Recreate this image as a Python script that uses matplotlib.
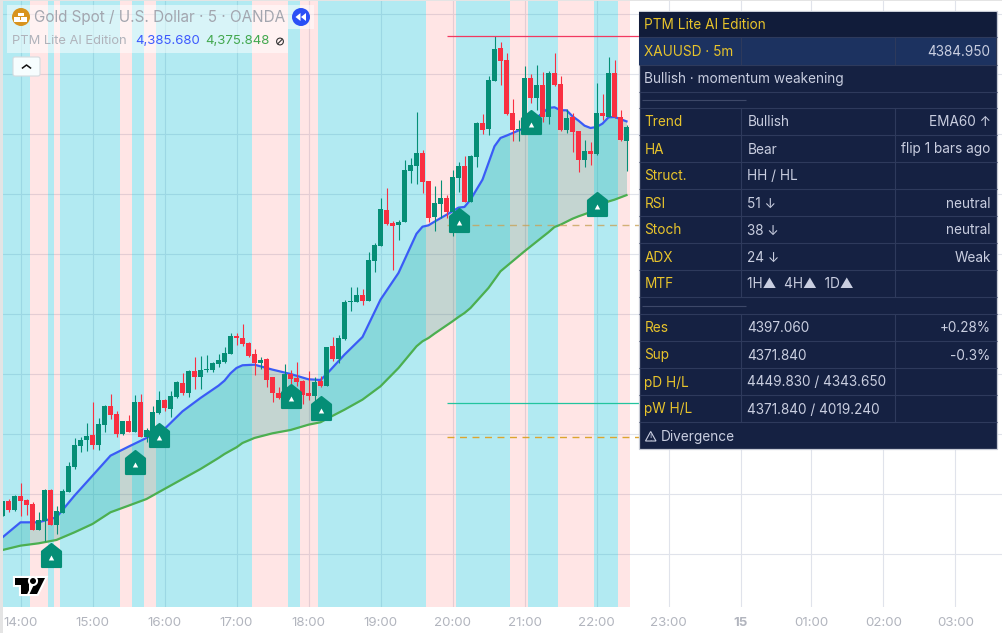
import matplotlib
matplotlib.use('Agg')
from matplotlib import pyplot as plt
from matplotlib.markers import MarkerStyle
from matplotlib.patches import Rectangle, FancyBboxPatch, Circle, Polygon
from matplotlib.path import Path
import matplotlib.patheffects as pe

plt.rcParams['font.family'] = ['Inter', 'DejaVu Sans']

# bars are counted from the 14:00 candle, 5 minutes each
first_bar = -3
opens = [4333.11, 4335.11, 4333.91, 4335.78, 4335.24, 4334.71, 4331.24, 4332.44, 4336.58, 4331.91,
         4333.51, 4336.31, 4339.64, 4342.44, 4343.24, 4343.91, 4342.58, 4345.24, 4347.78, 4346.71,
         4344.04, 4345.78, 4344.31, 4348.31, 4343.64, 4344.44, 4346.84, 4348.58, 4347.38, 4348.98,
         4350.84, 4349.51, 4352.44, 4351.64, 4352.58, 4352.58, 4353.38, 4353.64, 4354.71, 4357.11,
         4356.84, 4356.18, 4354.71, 4353.51, 4354.04, 4351.56, 4349.51, 4348.80, 4352.00, 4351.51,
         4351.11, 4349.51, 4349.11, 4351.11, 4350.44, 4355.78, 4354.04, 4356.71, 4361.64, 4361.64,
         4362.58, 4361.78, 4367.11, 4369.11, 4373.91, 4372.18, 4371.91, 4372.31, 4379.11, 4379.78,
         4381.47, 4377.78, 4372.98, 4374.71, 4375.51, 4373.64, 4378.18, 4379.78, 4374.98, 4380.98,
         4385.51, 4384.71, 4391.11, 4395.51, 4393.91, 4386.84, 4384.58, 4384.58, 4391.51, 4388.84,
         4390.58, 4386.31, 4392.18, 4390.71, 4384.58, 4386.31, 4384.44, 4380.58, 4381.78, 4381.38,
         4386.84, 4386.31, 4392.18, 4386.31, 4383.11]
closes = [4335.11, 4333.91, 4335.78, 4335.11, 4334.58, 4331.24, 4332.58, 4336.58, 4331.91, 4333.78,
          4336.44, 4339.78, 4342.53, 4343.24, 4343.78, 4342.58, 4345.38, 4347.78, 4346.58, 4344.04,
          4345.78, 4344.31, 4348.31, 4343.64, 4344.58, 4346.98, 4348.58, 4347.51, 4349.11, 4350.89,
          4349.51, 4352.44, 4351.64, 4352.58, 4352.71, 4353.51, 4353.91, 4354.84, 4357.11, 4356.84,
          4356.04, 4354.44, 4353.51, 4353.91, 4351.24, 4349.42, 4348.80, 4352.00, 4351.38, 4350.98,
          4349.24, 4349.11, 4350.98, 4350.44, 4355.64, 4354.04, 4356.84, 4361.64, 4361.78, 4362.58,
          4361.78, 4367.24, 4369.24, 4374.04, 4372.04, 4371.78, 4372.31, 4379.24, 4379.91, 4381.47,
          4377.64, 4372.84, 4374.84, 4375.51, 4373.64, 4378.31, 4379.78, 4374.98, 4381.11, 4385.51,
          4384.58, 4391.24, 4395.38, 4393.78, 4386.71, 4384.58, 4384.71, 4391.51, 4388.84, 4390.58,
          4386.31, 4392.18, 4390.58, 4384.58, 4386.18, 4384.31, 4380.58, 4381.78, 4381.38, 4386.84,
          4386.44, 4392.18, 4386.31, 4383.24, 4384.95]
highs = [4335.11, 4335.33, 4335.91, 4337.47, 4335.33, 4334.89, 4333.64, 4336.67, 4336.67, 4334.44,
         4336.67, 4340.31, 4343.47, 4343.56, 4345.42, 4348.22, 4346.13, 4347.91, 4349.38, 4347.11,
         4345.78, 4346.58, 4349.24, 4349.38, 4344.80, 4347.78, 4349.78, 4348.67, 4349.78, 4351.11,
         4352.09, 4352.58, 4354.31, 4354.44, 4354.58, 4353.56, 4354.67, 4355.64, 4357.47, 4357.42,
         4358.67, 4356.27, 4355.38, 4354.31, 4354.13, 4351.64, 4350.22, 4353.33, 4352.53, 4353.64,
         4351.20, 4352.44, 4351.64, 4351.78, 4355.64, 4356.93, 4357.24, 4361.91, 4363.56, 4363.60,
         4363.38, 4368.27, 4369.47, 4375.47, 4376.80, 4372.36, 4372.58, 4380.58, 4380.80, 4386.98,
         4381.91, 4377.78, 4377.11, 4377.91, 4375.91, 4379.24, 4380.31, 4381.11, 4381.24, 4385.64,
         4386.71, 4391.78, 4397.11, 4396.31, 4394.84, 4388.71, 4385.91, 4393.11, 4392.04, 4393.24,
         4392.31, 4392.44, 4394.84, 4391.78, 4387.38, 4386.84, 4384.44, 4383.24, 4382.98, 4390.84,
         4389.38, 4394.31, 4393.91, 4387.24, 4385.24]
lows = [4333.11, 4333.56, 4333.78, 4333.02, 4333.24, 4331.24, 4331.24, 4329.78, 4331.91, 4330.67,
        4333.42, 4336.31, 4339.33, 4341.56, 4341.78, 4342.00, 4341.91, 4344.31, 4346.00, 4343.56,
        4343.91, 4344.31, 4344.31, 4343.64, 4342.89, 4344.00, 4346.67, 4347.11, 4346.22, 4348.80,
        4349.24, 4348.98, 4350.00, 4350.00, 4352.22, 4352.22, 4352.89, 4353.42, 4354.67, 4355.91,
        4355.78, 4354.22, 4351.91, 4352.67, 4350.22, 4348.31, 4348.67, 4348.80, 4350.67, 4350.44,
        4348.00, 4348.53, 4348.44, 4350.22, 4350.44, 4353.69, 4353.47, 4356.58, 4360.44, 4361.64,
        4361.24, 4361.78, 4365.64, 4369.11, 4371.91, 4365.91, 4369.90, 4372.31, 4377.47, 4377.38,
        4376.18, 4372.31, 4371.11, 4372.84, 4372.84, 4370.44, 4376.31, 4374.98, 4374.98, 4379.64,
        4384.04, 4383.91, 4391.11, 4390.58, 4386.58, 4383.11, 4383.11, 4384.58, 4388.13, 4387.24,
        4385.64, 4385.38, 4390.44, 4384.44, 4384.18, 4381.64, 4378.98, 4379.64, 4379.91, 4381.24,
        4385.91, 4386.31, 4386.18, 4383.11, 4379.11]

ema_bars = [-3, 0, 3, 6, 9, 12, 15, 18, 21, 24, 27, 30, 33, 34, 35, 36, 37, 39, 42, 45, 48, 50, 51, 54, 57,
            60, 63, 66, 67, 68, 69, 72, 73, 74, 75, 76, 77, 78, 79, 80, 81, 84, 87, 88, 89, 90, 91, 92, 93,
            94, 95, 96, 97, 98, 99, 101]
ema_fast = [4330.22, 4332.22, 4332.22, 4332.89, 4335.78, 4338.44, 4341.11, 4342.31, 4343.47, 4344.67,
            4347.02, 4348.80, 4350.44, 4351.11, 4352.09, 4352.80, 4353.16, 4353.24, 4352.58, 4352.00,
            4351.29, 4351.20, 4351.96, 4354.58, 4356.93, 4361.91, 4365.47, 4370.70, 4371.64, 4371.82,
            4372.31, 4373.69, 4374.18, 4374.27, 4375.24, 4376.58, 4377.91, 4380.13, 4382.36, 4383.47,
            4383.78, 4384.80, 4386.80, 4387.47, 4387.56, 4387.16, 4387.16, 4386.36, 4385.78, 4385.11,
            4384.80, 4384.93, 4385.38, 4386.22, 4386.27, 4385.68]
ema_60 = [4328.53, 4329.11, 4329.42, 4329.87, 4330.89, 4332.00, 4333.56, 4334.44, 4335.33, 4336.67,
          4338.00, 4339.33, 4340.80, 4341.33, 4341.78, 4342.22, 4342.80, 4343.47, 4344.09, 4344.53,
          4345.24, 4345.56, 4346.00, 4347.24, 4348.58, 4350.36, 4352.80, 4355.69, 4356.36, 4356.80,
          4357.38, 4359.02, 4359.60, 4360.13, 4360.80, 4361.69, 4362.58, 4363.47, 4364.58, 4365.69,
          4366.36, 4368.36, 4370.27, 4370.90, 4371.60, 4371.90, 4372.30, 4372.70, 4373.02, 4373.30,
          4373.60, 4373.82, 4374.60, 4375.00, 4375.24, 4375.848]

# background state changes, first zone is blue then they alternate
zone_edges = [-3, 1.5, 4.5, 5.5, 6.5, 16.5, 18.5, 20.5, 22.5, 38.5, 44.5, 46.5, 49.5, 67.5, 72.5, 81.5,
              84.5, 89.5, 95.5, 99.5, 101.5]

signal_bars = [5, 19, 23, 45, 50, 73, 85, 96]
signal_prices = [4327.87, 4340.33, 4343.80, 4349.07, 4347.47, 4372.53, 4385.60, 4374.67]

res_level = 4397.06
sup_level = 4371.84
green_level = 4348.09
pd_low_level = 4343.65

tick_bars = [0, 12, 24, 36, 48, 60, 72, 84, 96, 108, 120, 131.8, 143.8, 155.8]
tick_labels = ['14:00', '15:00', '16:00', '17:00', '18:00', '19:00', '20:00', '21:00', '22:00', '23:00',
               '15', '01:00', '02:00', '03:00']
price_grid = [4328, 4336, 4344, 4352, 4360, 4368, 4376, 4384, 4392, 4400]

table_labels = ['Trend', 'HA', 'Struct.', 'RSI', 'Stoch', 'ADX', 'MTF']
table_values = ['Bullish', 'Bear', 'HH / HL', '51 ↓', '38 ↓', '24 ↓', '1H▲  4H▲  1D▲']
table_notes = ['EMA60 ↑', 'flip 1 bars ago', '', 'neutral', 'neutral', 'Weak', '']
level_labels = ['Res', 'Sup', 'pD H/L', 'pW H/L']
level_values = ['4397.060', '4371.840', '4449.830 / 4343.650', '4371.840 / 4019.240']
level_notes = ['+0.28%', '-0.3%', '', '']

GREEN = '#058e76'
RED = '#f92f41'

fig = plt.figure(figsize=(10.03, 6.33), dpi=100, facecolor='white')
ax = fig.add_axes([3 / 1003, 26 / 633, 1000 / 1003, 606 / 633])
ax.set_xlim(-2.917, 163.75)
ax.set_ylim(4320.93, 4401.73)
for s in ax.spines.values():
    s.set_visible(False)

ax.set_xticks(tick_bars, tick_labels)
ax.set_yticks(price_grid)
ax.tick_params(axis='x', length=0, pad=7, labelsize=9.6, labelcolor='#b2b5be')
ax.tick_params(axis='y', length=0, labelleft=False)
ax.get_xticklabels()[10].set_fontweight('bold')
ax.grid(color='#e0e3eb', linewidth=0.8)
ax.set_axisbelow(True)

for i in range(len(zone_edges) - 1):
    if i % 2 == 0:
        ax.axvspan(zone_edges[i], zone_edges[i + 1], color='#00bcd4', alpha=0.3, lw=0, zorder=1)
    else:
        ax.axvspan(zone_edges[i], zone_edges[i + 1], color='#ff5252', alpha=0.15, lw=0, zorder=1)

ax.fill_between(ema_bars, ema_60, ema_fast, color='#00a090', alpha=0.23, lw=0, zorder=2)
ax.plot(ema_bars, ema_fast, color='#3a5cf6', lw=1.6, zorder=3)
ax.plot(ema_bars, ema_60, color='#4caf50', lw=1.6, zorder=3)

bars = list(range(first_bar, first_bar + len(opens)))
colors = [GREEN if c >= o else RED for o, c in zip(opens, closes)]
ax.vlines(bars, lows, highs, colors=colors, lw=0.8, zorder=4)
ax.bar(bars, [abs(c - o) for o, c in zip(opens, closes)], bottom=[min(o, c) for o, c in zip(opens, closes)],
       width=5 / 6, color=colors, lw=0, zorder=4)

ax.hlines(res_level, 71, 105, color='#f23860', lw=0.9, zorder=5)
ax.hlines(green_level, 71, 105, color='#22c49e', lw=0.9, zorder=5)
ax.hlines(pd_low_level, 71, 105, color='#dca52f', lw=1.0, linestyles=(0, (5, 4)), zorder=5)
ax.hlines(sup_level, 71, 105, color='#c8a35a', lw=1.0, alpha=0.8, linestyles=(0, (5, 4)), zorder=5)

# label-up signal: house shape with a small white triangle
house = Path([(-9.5, -11.5), (9.5, -11.5), (9.5, 4), (0, 11.5), (-9.5, 4), (-9.5, -11.5)], closed=True)
ax.plot(signal_bars, signal_prices, ls='', marker=MarkerStyle(house, joinstyle='round'), ms=16.6,
        mfc=GREEN, mec=GREEN, mew=1.5, zorder=6)
tri = Path([(-2.7, -5), (2.7, -5), (0, 0), (-2.7, -5)], closed=True)
ax.plot(signal_bars, signal_prices, ls='', marker=tri, ms=7.2, mfc='white', mew=0, zorder=7)

# everything else is screen furniture, drawn in pixels
ui = fig.add_axes([0, 0, 1, 1], zorder=10)
ui.set_xlim(0, 1003)
ui.set_ylim(633, 0)
ui.axis('off')

ui.add_patch(Rectangle((0, 0), 3, 633, color='#e4e4e4', lw=0))
ui.add_patch(Rectangle((0, 0), 1003, 1, color='#e4e4e4', lw=0))

# legend block
ui.add_patch(Rectangle((7, 5), 307, 24, color='white', alpha=0.5, lw=0))
ui.add_patch(Rectangle((7, 29), 281, 24, color='white', alpha=0.5, lw=0))
ui.add_patch(Circle((21, 17), 9, color='#d8941e', lw=0))
for bx, by, bw in [(18, 12.5, 6), (14.5, 16.5, 6), (21.5, 16.5, 6)]:
    ui.add_patch(Rectangle((bx, by), bw, 3, color='white', lw=0))
ui.add_patch(Rectangle((14.5, 20), 13, 1.6, color='white', lw=0))
ui.text(34, 17.5, 'Gold Spot / U.S. Dollar · 5 · OANDA', fontsize=11.0, color='#a3a6af', va='center')
ui.add_patch(Circle((301, 17), 9, color='#2a4ff6', lw=0))
ui.add_patch(Polygon([(300.5, 13), (300.5, 21), (295.5, 17)], color='white', lw=0))
ui.add_patch(Polygon([(306, 13), (306, 21), (301, 17)], color='white', lw=0))
ui.text(12, 41.5, 'PTM Lite AI Edition', fontsize=9.3, color='#b0b3bb', va='center')
ui.text(135, 41.5, '4,385.680', fontsize=9.5, color='#3d5afe', va='center')
ui.text(205, 41.5, '4,375.848', fontsize=9.5, color='#43a84f', va='center')
ui.add_patch(Circle((280, 41.5), 3.4, fc='none', ec='#333333', lw=0.8))
ui.plot([277.8, 282.2], [43.7, 39.3], color='#333333', lw=0.8)
ui.add_patch(FancyBboxPatch((13, 57), 27, 19, boxstyle='round,pad=0,rounding_size=2', fc='#f6fdfe', ec='#d5dbdf', lw=0.8))
ui.plot([22.5, 26.5, 30.5], [68, 65, 68], color='#111111', lw=1.1)

# TradingView mark
stroke = [pe.withStroke(linewidth=3, foreground='white')]
for pts in [[(15, 578), (29, 578), (29, 594), (21, 594), (21, 585), (15, 585)],
            [(37, 578), (45, 578), (37, 594), (29.5, 594)]]:
    ui.add_patch(Polygon(pts, color='black', lw=0, path_effects=stroke))
ui.add_patch(Circle((33, 581), 3, color='black', lw=0, path_effects=stroke))

# info table
T_LEFT, T_RIGHT = 639, 997
COL2, COL3 = 741.3, 894.7
LINE = '#2e3a5c'
GOLD = '#e8c42c'
TEXT = '#c9cee0'
FS = 9.8
ui.add_patch(Rectangle((T_LEFT, 11), T_RIGHT - T_LEFT, 438.3, fc='#152142', ec='#c8ccd6', lw=0.9))
ui.add_patch(Rectangle((T_LEFT + 0.5, 11.5), T_RIGHT - T_LEFT - 1, 25.8, fc='#111c3a', lw=0))
ui.add_patch(Rectangle((T_LEFT + 0.5, 37.3), T_RIGHT - T_LEFT - 1, 27.4, fc='#1c3260', lw=0))
ui.hlines([37.3, 64.7, 91.7, 108.3, 135.3, 162.3, 189.3, 216.3, 243.3, 270.3, 297.3, 314.3, 341.3, 368.3,
           395.3, 422.3], T_LEFT, T_RIGHT, color=LINE, lw=0.8)
for y0, y1 in [(37.3, 64.7), (108.3, 297.3), (314.3, 422.3)]:
    ui.vlines([COL2, COL3], y0, y1, color=LINE, lw=0.8)
ui.hlines([100, 306.3], 642, 746, color='#3d4868', lw=0.8)

ui.text(644.5, 25, 'PTM Lite AI Edition', fontsize=FS, color=GOLD, va='center')
ui.text(644.5, 52, 'XAUUSD · 5m', fontsize=FS, color=GOLD, va='center')
ui.text(990.7, 52, '4384.950', fontsize=FS, color=TEXT, va='center', ha='right')
ui.text(644.5, 79, 'Bullish · momentum weakening', fontsize=FS, color=TEXT, va='center')
for i in range(len(table_labels)):
    y = 122.5 + 27 * i
    ui.text(644.5, y, table_labels[i], fontsize=FS, color=GOLD, va='center')
    ui.text(747.5, y, table_values[i], fontsize=FS, color=TEXT, va='center')
    ui.text(990.7, y, table_notes[i], fontsize=FS, color=TEXT, va='center', ha='right')
for i in range(len(level_labels)):
    y = 328.5 + 27 * i
    ui.text(644.5, y, level_labels[i], fontsize=FS, color=GOLD, va='center')
    ui.text(747.5, y, level_values[i], fontsize=FS, color=TEXT, va='center')
    ui.text(990.7, y, level_notes[i], fontsize=FS, color=TEXT, va='center', ha='right')
ui.add_patch(Polygon([(645.5, 441), (656, 441), (650.7, 431.5)], fc='none', ec=TEXT, lw=0.8))
ui.text(650.7, 438.2, '!', fontsize=6, color=TEXT, va='center', ha='center')
ui.text(661, 436.5, 'Divergence', fontsize=FS, color=TEXT, va='center')

fig.savefig('out.png', dpi=100, facecolor='white')
